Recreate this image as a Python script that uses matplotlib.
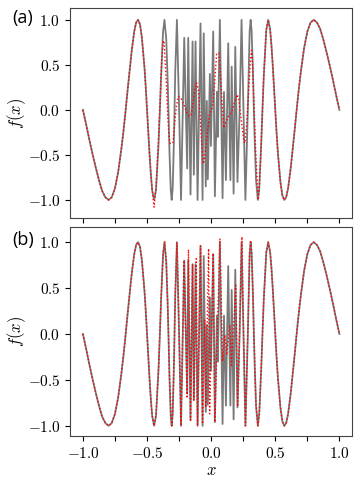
import matplotlib
matplotlib.use('Agg')
import matplotlib.pyplot as plt

plt.rcParams['mathtext.fontset'] = 'cm'

# shared outer parts (gray and red curves coincide there)
left_x = [-1.0, -0.975, -0.95, -0.925, -0.9, -0.875, -0.85, -0.825, -0.8, -0.775, -0.75,
          -0.725, -0.7, -0.685, -0.67, -0.65, -0.62, -0.6, -0.585, -0.57, -0.555, -0.54,
          -0.52, -0.51, -0.5, -0.49, -0.48, -0.47, -0.46]
left_y = [0.0, -0.16, -0.33, -0.49, -0.64, -0.78, -0.90, -0.97, -1.00, -0.97, -0.87,
          -0.69, -0.43, -0.25, -0.05, 0.24, 0.65, 0.87, 0.97, 1.00, 0.95, 0.80,
          0.47, 0.25, 0.0, -0.25, -0.50, -0.72, -0.89]
right_x = [0.375, 0.39, 0.40, 0.41, 0.43, 0.445, 0.46, 0.47, 0.48, 0.49, 0.50, 0.51, 0.52,
           0.54, 0.555, 0.57, 0.585, 0.60, 0.62, 0.65, 0.67, 0.685, 0.70, 0.725, 0.75,
           0.775, 0.80, 0.825, 0.85, 0.875, 0.90, 0.925, 0.95, 0.975, 1.0]
right_y = [-0.87, -0.39, 0.0, 0.37, 0.89, 1.00, 0.89, 0.72, 0.50, 0.25, 0.0, -0.25, -0.47,
           -0.80, -0.95, -1.00, -0.97, -0.87, -0.65, -0.24, 0.05, 0.25, 0.43, 0.69, 0.87,
           0.97, 1.00, 0.97, 0.90, 0.78, 0.64, 0.49, 0.33, 0.16, 0.0]

# exact function, middle part
gray_mid_x = [-0.445, -0.43, -0.41, -0.40, -0.39, -0.375, -0.364, -0.35, -0.34, -0.333,
              -0.325, -0.315, -0.308, -0.30, -0.29, -0.28, -0.267, -0.25, -0.235, -0.21,
              -0.187, -0.179, -0.161, -0.145, -0.135, -0.122, -0.106, -0.083, -0.067,
              -0.058, -0.042, -0.034, -0.026, -0.010, -0.002, 0.016, 0.029, 0.045, 0.052,
              0.068, 0.089, 0.100, 0.115, 0.133, 0.150, 0.160, 0.175, 0.188, 0.205, 0.222,
              0.237, 0.252, 0.267, 0.286, 0.300, 0.308, 0.315, 0.325, 0.333, 0.340, 0.350,
              0.364]
gray_mid_y = [-1.00, -0.89, -0.37, 0.0, 0.39, 0.87, 1.00, 0.78, 0.36, 0.0,
              -0.47, -0.89, -1.00, -0.87, -0.32, 0.43, 1.00, 0.0, -1.00, 0.80,
              -0.65, 0.80, -0.94, 0.76, -0.72, 0.76, -1.00, 0.96, -1.00,
              0.85, -0.85, 0.10, -0.77, 0.40, -0.40, 0.87, -0.96, 0.20, -0.30,
              1.00, -0.98, 0.20, -0.78, 0.74, -0.78, 0.48, -0.93, 0.70, -0.80, 0.0,
              1.00, 0.0, -1.00, 0.0, 0.87, 1.00, 0.89, 0.47, 0.0, -0.36, -0.78,
              -1.00]

# approximation (a)
red_a_mid_x = [-0.445, -0.43, -0.415, -0.40, -0.39, -0.38, -0.374, -0.368, -0.355, -0.34,
               -0.33, -0.322, -0.298, -0.285, -0.27, -0.255, -0.235, -0.205, -0.185, -0.172,
               -0.155, -0.14, -0.125, -0.114, -0.10, -0.085, -0.07, -0.062, -0.05, -0.03,
               -0.01, 0.01, 0.025, 0.042, 0.06, 0.075, 0.09, 0.099, 0.115, 0.135, 0.16,
               0.18, 0.203, 0.215, 0.235, 0.255, 0.263, 0.275, 0.29, 0.305, 0.315, 0.322,
               0.335, 0.35, 0.367]
red_a_mid_y = [-1.08, -0.85, -0.45, 0.02, 0.38, 0.68, 0.77, 0.76, 0.45, 0.0,
               -0.28, -0.37, -0.37, -0.15, 0.05, 0.15, 0.13, 0.03, -0.05, -0.07,
               -0.05, 0.08, 0.25, 0.30, 0.22, -0.10, -0.45, -0.60, -0.52, -0.25,
               -0.04, 0.03, 0.25, 0.62, 0.63, 0.35, -0.05, -0.20, -0.13, -0.07, -0.02,
               0.07, 0.17, 0.12, -0.12, -0.35, -0.37, -0.20, 0.15, 0.52, 0.66, 0.55,
               0.0, -0.55, -1.00]

# approximation (b)
red_b_mid_x = [-0.445, -0.43, -0.41, -0.40, -0.39, -0.375, -0.362, -0.35, -0.34, -0.333,
               -0.325, -0.315, -0.306, -0.30, -0.29, -0.28, -0.267, -0.25, -0.235, -0.212,
               -0.187, -0.177, -0.161, -0.145, -0.135, -0.116, -0.106, -0.083, -0.067,
               -0.050, -0.042, -0.020, -0.012, 0.016, 0.029, 0.068, 0.089, 0.107, 0.120,
               0.146, 0.159, 0.172, 0.192, 0.207, 0.222, 0.240, 0.252, 0.268, 0.286, 0.300,
               0.308, 0.315, 0.325, 0.333, 0.340, 0.350, 0.364]
red_b_mid_y = [-1.00, -0.89, -0.37, 0.0, 0.39, 0.87, 1.01, 0.78, 0.36, 0.0,
               -0.47, -0.89, -1.00, -0.87, -0.32, 0.43, 1.00, 0.0, -1.00, 0.80,
               -0.70, 0.92, -0.94, 0.76, -0.72, 0.82, -1.00, 0.96, -0.98,
               0.15, -0.80, 0.93, -0.87, 0.88, -0.96, 1.04, -0.30, -0.01, -0.23,
               0.10, -0.34, -0.01, 0.53, -0.79, 0.05, 1.06, 0.05, -1.00, 0.0, 0.90,
               1.02, 0.90, 0.47, 0.0, -0.36, -0.78, -1.00]

xticks = [-1.0, -0.75, -0.5, -0.25, 0.0, 0.25, 0.5, 0.75, 1.0]
xticklabels = ['$-1.0$', '', '$-0.5$', '', '$0.0$', '', '$0.5$', '', '$1.0$']
yticks = [-1.0, -0.5, 0.0, 0.5, 1.0]
yticklabels = ['$-1.0$', '$-0.5$', '$0.0$', '$0.5$', '$1.0$']

gray_x = left_x + gray_mid_x + right_x
gray_y = left_y + gray_mid_y + right_y
red_a_x = left_x + red_a_mid_x + right_x
red_a_y = left_y + red_a_mid_y + right_y
red_b_x = left_x + red_b_mid_x + right_x
red_b_y = left_y + red_b_mid_y + right_y

fig = plt.figure(figsize=(3.54, 4.79), dpi=100)
ax_a = fig.add_axes([0.198, 0.545, 0.797, 0.438])
ax_b = fig.add_axes([0.198, 0.090, 0.797, 0.436])

panels = [(ax_a, red_a_x, red_a_y, (-1.2, 1.13), '(a)', 0.962),
          (ax_b, red_b_x, red_b_y, (-1.11, 1.165), '(b)', 0.499)]
for ax, rx, ry, ylim, lab, ty in panels:
    ax.plot(gray_x, gray_y, color='#7a7a7a', lw=1.3)
    ax.plot(rx, ry, color='red', lw=1.0, ls=(0, (1, 1.6)))
    ax.set_xlim(-1.1, 1.1)
    ax.set_ylim(*ylim)
    ax.set_xticks(xticks)
    ax.set_yticks(yticks)
    ax.set_yticklabels(yticklabels, fontsize=11)
    ax.set_ylabel(r'$f(x)$', fontsize=12, labelpad=0)
    for s in ax.spines.values():
        s.set_color('#444444')
    fig.text(0.035, ty, lab, fontsize=13, family='Open Sans', ha='left', va='center')

ax_a.set_xticklabels([])
ax_b.set_xticklabels(xticklabels, fontsize=11)
ax_b.set_xlabel(r'$x$', fontsize=12, labelpad=0)

fig.savefig('out.png', dpi=100)
